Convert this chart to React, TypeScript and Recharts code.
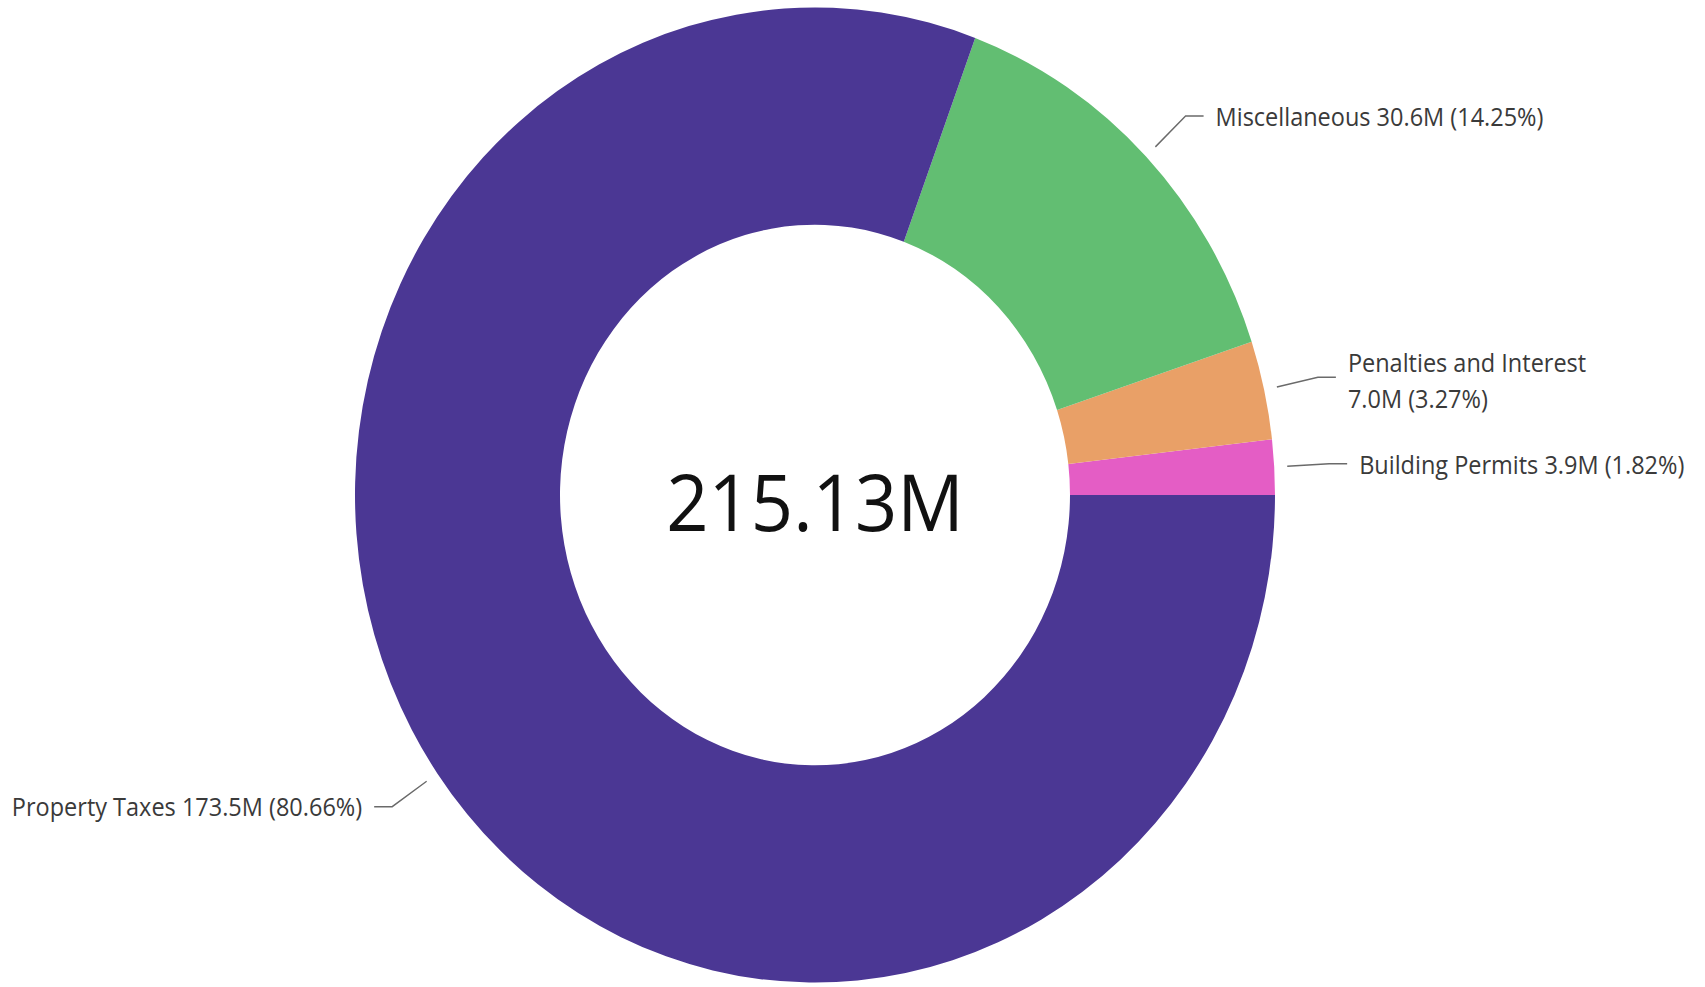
import React from 'react';
import { PieChart, Pie, Cell } from 'recharts';

const categories = ['Building Permits', 'Penalties and Interest', 'Miscellaneous', 'Property Taxes'];
const values = [3.924, 7.033, 30.648, 173.525];
const colors = ['#E45DC5', '#E9A067', '#62BE72', '#4B3794'];

const W = 1705;
const H = 987;
const STRETCH = 1.06;
const CH = Math.round(H / STRETCH);

const total = values.reduce((a, b) => a + b, 0);
const data = categories.map((name, i) => ({ name, value: values[i] }));

const RAD = Math.PI / 180;
const FONT = '"Open Sans", "Noto Sans", sans-serif';
const LABEL_SIZE = 23.5;
const LABEL_COLOR = '#3a3a3a';

function polar(cx: number, cy: number, r: number, angle: number): [number, number] {
  return [cx + r * Math.cos(-angle * RAD), cy + r * Math.sin(-angle * RAD)];
}

function renderLabel(props: any) {
  const { cx, cy, midAngle, outerRadius, name, value, percent, index } = props;
  const [x0, y0] = polar(cx, cy, outerRadius + 13, midAngle);
  const [x1, y1] = polar(cx, cy, outerRadius + 55, midAngle);
  const right = Math.cos(midAngle * RAD) >= 0;
  const x2 = x1 + (right ? 18 : -18);
  const tx = x2 + (right ? 12 : -12);
  const valueText = `${Number(value).toFixed(1)}M (${(percent * 100).toFixed(2)}%)`;
  const full = `${name} ${valueText}`;
  const estW = full.length * LABEL_SIZE * 0.48;
  const wrap = right ? tx + estW > W - 8 : tx - estW < 8;
  const anchor = right ? 'start' : 'end';
  return (
    <g key={`lbl-${name}`}>
      {index === 0 && (
        <text
          x={cx}
          y={cy + 5}
          textAnchor="middle"
          dominantBaseline="central"
          fill="#111111"
          fontFamily={FONT}
          fontSize={74}
        >
          {`${total.toFixed(2)}M`}
        </text>
      )}
      <polyline
        points={`${x0},${y0} ${x1},${y1} ${x2},${y1}`}
        fill="none"
        stroke="#6a6a6a"
        strokeWidth={1.4}
      />
      {wrap ? (
        <text x={tx} y={y1} textAnchor={anchor} fill={LABEL_COLOR} fontFamily={FONT} fontSize={LABEL_SIZE}>
          <tspan x={tx} dy={-14} dominantBaseline="central">{name}</tspan>
          <tspan x={tx} dy={34} dominantBaseline="central">{valueText}</tspan>
        </text>
      ) : (
        <text x={tx} y={y1} textAnchor={anchor} dominantBaseline="central" fill={LABEL_COLOR} fontFamily={FONT} fontSize={LABEL_SIZE}>
          {full}
        </text>
      )}
    </g>
  );
}

export default function App() {
  return (
    <div
      style={{
        position: 'absolute',
        left: 0,
        top: 0,
        width: W,
        height: CH,
        background: '#ffffff',
        transform: `scaleY(${STRETCH})`,
        transformOrigin: '0 0',
      }}
    >
      <PieChart width={W} height={CH} margin={{ top: 0, right: 0, bottom: 0, left: 0 }}>
        <Pie
          data={data}
          dataKey="value"
          nameKey="name"
          cx={815}
          cy={467}
          innerRadius={255}
          outerRadius={460}
          startAngle={0}
          endAngle={360}
          stroke="none"
          isAnimationActive={false}
          label={renderLabel}
          labelLine={false}
        >
          {data.map((d, i) => (
            <Cell key={d.name} fill={colors[i]} stroke="none" />
          ))}
        </Pie>
      </PieChart>
    </div>
  );
}
